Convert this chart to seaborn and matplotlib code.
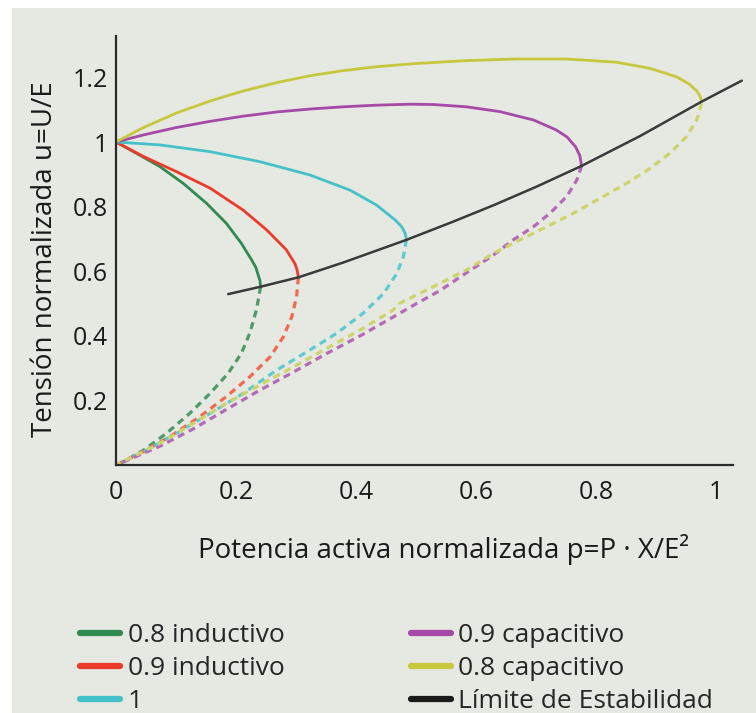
import numpy as np
import matplotlib
matplotlib.use('Agg')
import matplotlib.pyplot as plt
import seaborn as sns
from matplotlib.patches import Rectangle
from matplotlib.lines import Line2D

sns.set_theme(style='white')
plt.rcParams['font.family'] = ['Open Sans', 'DejaVu Sans']

BG = '#e6e8e2'

# --- data (p, u) ------------------------------------------------------------
# 0.8 inductivo
ind08_up_p = [0, 0.034, 0.073, 0.112, 0.151, 0.184, 0.209, 0.226, 0.233, 0.237, 0.240, 0.241]
ind08_up_u = [1.0, 0.965, 0.924, 0.872, 0.810, 0.748, 0.686, 0.635, 0.612, 0.588, 0.570, 0.552]
ind08_lo_p = [0.241, 0.234, 0.223, 0.209, 0.187, 0.157, 0.123, 0.084, 0.046, 0.012, 0]
ind08_lo_u = [0.552, 0.480, 0.408, 0.346, 0.284, 0.222, 0.160, 0.098, 0.046, 0.010, 0]

# 0.9 inductivo
ind09_up_p = [0, 0.046, 0.101, 0.157, 0.212, 0.251, 0.284, 0.298, 0.302, 0.304]
ind09_up_u = [1.0, 0.955, 0.908, 0.857, 0.789, 0.728, 0.666, 0.624, 0.603, 0.581]
ind09_lo_p = [0.304, 0.301, 0.293, 0.279, 0.257, 0.223, 0.184, 0.140, 0.090, 0.040, 0]
ind09_lo_u = [0.581, 0.521, 0.459, 0.397, 0.335, 0.273, 0.212, 0.150, 0.088, 0.036, 0]

# 1
unity_up_p = [0, 0.073, 0.157, 0.240, 0.323, 0.390, 0.434, 0.465, 0.476, 0.482, 0.484]
unity_up_u = [1.0, 0.991, 0.970, 0.939, 0.898, 0.851, 0.805, 0.759, 0.738, 0.717, 0.697]
unity_lo_p = [0.484, 0.479, 0.468, 0.446, 0.412, 0.368, 0.323, 0.268, 0.212, 0.157, 0.101, 0.046, 0]
unity_lo_u = [0.697, 0.645, 0.593, 0.531, 0.470, 0.408, 0.356, 0.294, 0.222, 0.160, 0.098, 0.041, 0]

# 0.9 capacitivo
cap09_up_p = [0, 0.046, 0.101, 0.157, 0.212, 0.268, 0.323, 0.379, 0.434, 0.490,
              0.529, 0.584, 0.640, 0.696, 0.734, 0.752, 0.766, 0.773, 0.776]
cap09_up_u = [1.0, 1.022, 1.045, 1.064, 1.080, 1.093, 1.102, 1.109, 1.114, 1.117,
              1.116, 1.109, 1.094, 1.068, 1.037, 1.015, 0.985, 0.958, 0.926]
cap09_lo_p = [0.776, 0.768, 0.751, 0.723, 0.696, 0.662, 0.629, 0.584, 0.540, 0.501, 0.473,
              0.412, 0.351, 0.296, 0.240, 0.184, 0.129, 0.073, 0.023, 0]
cap09_lo_u = [0.926, 0.882, 0.831, 0.779, 0.738, 0.697, 0.650, 0.595, 0.540, 0.500, 0.470,
              0.405, 0.345, 0.288, 0.232, 0.172, 0.112, 0.058, 0.018, 0]

# 0.8 capacitivo
cap08_up_p = [0, 0.046, 0.101, 0.157, 0.212, 0.268, 0.323, 0.379, 0.434, 0.500,
              0.584, 0.668, 0.751, 0.834, 0.890, 0.934, 0.955, 0.968, 0.974, 0.976]
cap08_up_u = [1.0, 1.045, 1.090, 1.127, 1.158, 1.184, 1.205, 1.221, 1.233, 1.243,
              1.252, 1.257, 1.257, 1.247, 1.228, 1.202, 1.180, 1.158, 1.140, 1.125]
cap08_lo_p = [0.976, 0.968, 0.951, 0.923, 0.890, 0.851, 0.807, 0.762, 0.718, 0.673, 0.629,
              0.584, 0.529, 0.473, 0.462, 0.407, 0.351, 0.296, 0.240, 0.184, 0.129, 0.073, 0.023, 0]
cap08_lo_u = [1.120, 1.068, 1.017, 0.965, 0.918, 0.872, 0.826, 0.779, 0.738, 0.697, 0.655,
              0.604, 0.552, 0.501, 0.480, 0.418, 0.361, 0.304, 0.248, 0.191, 0.129, 0.067, 0.021, 0]

# Limite de estabilidad
limit_p = [0.187, 0.241, 0.304, 0.379, 0.484, 0.560, 0.629, 0.700, 0.776, 0.873, 0.976, 1.043]
limit_u = [0.529, 0.552, 0.581, 0.627, 0.697, 0.752, 0.804, 0.861, 0.926, 1.018, 1.125, 1.190]

labels = ['0.8 inductivo', '0.9 inductivo', '1', '0.9 capacitivo', '0.8 capacitivo',
          'Límite de Estabilidad']
colors = ['#2f8a50', '#ec3b2a', '#45c2c9', '#a54aa6', '#c7c83d', '#1a1a1a']
dash_colors = ['#4f9a68', '#f06a4e', '#5fcad1', '#b46ab6', '#cdd46a']

curves = [
    (ind08_up_p, ind08_up_u, ind08_lo_p, ind08_lo_u),
    (ind09_up_p, ind09_up_u, ind09_lo_p, ind09_lo_u),
    (unity_up_p, unity_up_u, unity_lo_p, unity_lo_u),
    (cap09_up_p, cap09_up_u, cap09_lo_p, cap09_lo_u),
    (cap08_up_p, cap08_up_u, cap08_lo_p, cap08_lo_u),
]

# --- figure -------------------------------------------------------------------
fig = plt.figure(figsize=(7.56, 7.13), dpi=100, facecolor='white')
fig.patches.append(Rectangle((12 / 756, 0), 1, 1 - 8 / 713, transform=fig.transFigure,
                             facecolor=BG, edgecolor='none', zorder=-10))
ax = fig.add_axes([116 / 756, 248 / 713, 617 / 756, 429 / 713])
ax.set_facecolor(BG)
ax.patch.set_alpha(0)

for (up_p, up_u, lo_p, lo_u), c, dc in zip(curves, colors, dash_colors):
    sns.lineplot(x=lo_p, y=lo_u, sort=False, estimator=None, ax=ax, color=dc,
                 linewidth=2.3)
    ax.lines[-1].set_dashes((2.2, 1.6))
    sns.lineplot(x=up_p, y=up_u, sort=False, estimator=None, ax=ax, color=c,
                 linewidth=2.0)

sns.lineplot(x=limit_p, y=limit_u, sort=False, estimator=None, ax=ax, color='#3a3a3a',
             linewidth=1.8)
ax.lines[-1].set_clip_on(False)

ax.set_xlim(0, 617 / 600)
ax.set_ylim(0, 429 / 323)
ax.set_xticks([0, 0.2, 0.4, 0.6, 0.8, 1.0])
ax.set_xticklabels(['0', '0.2', '0.4', '0.6', '0.8', '1'])
ax.set_yticks([0.2, 0.4, 0.6, 0.8, 1.0, 1.2])
ax.set_yticklabels(['0.2', '0.4', '0.6', '0.8', '1', '1.2'])
ax.tick_params(axis='x', length=0, pad=11, labelsize=18, colors='#1a1a1a')
ax.tick_params(axis='y', length=0, pad=6, labelsize=18, colors='#1a1a1a')

for s in ['top', 'right']:
    ax.spines[s].set_visible(False)
for s in ['left', 'bottom']:
    ax.spines[s].set_color('#2a2a2a')
    ax.spines[s].set_linewidth(1.6)

ax.set_xlabel('Potencia activa normalizada p=P · X/E²', fontsize=20, color='#1a1a1a')
ax.set_ylabel('Tensión normalizada u=U/E', fontsize=20, color='#1a1a1a')
ax.xaxis.set_label_coords(0.53, -0.16)
ax.yaxis.set_label_coords(-0.092, 0.48)

handles = [Line2D([0], [0], color=c, linewidth=4.5) for c in colors]
fig.legend(handles, labels, ncol=2, loc='upper left',
           bbox_to_anchor=(80 / 756, 1 - 623 / 713), frameon=False, fontsize=19,
           handlelength=1.5, handletextpad=0.3, labelspacing=0.31, columnspacing=4.8,
           borderaxespad=0, borderpad=0)

fig.savefig('out.png', dpi=100, facecolor='white')
